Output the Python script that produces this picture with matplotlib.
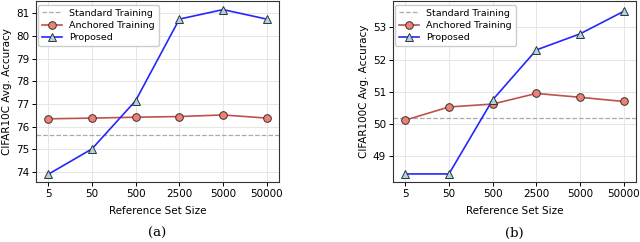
import numpy as np
import matplotlib.pyplot as plt

sizes = ["5", "50", "500", "2500", "5000", "50000"]

std10 = 75.63
anch10 = [76.35, 76.38, 76.42, 76.45, 76.52, 76.38]
prop10 = [73.9, 75.02, 77.15, 80.75, 81.17, 80.75]

std100 = 50.18
anch100 = [50.12, 50.53, 50.62, 50.95, 50.83, 50.70]
prop100 = [48.45, 48.45, 50.75, 52.30, 52.80, 53.50]


def drawPanel(ax, std, anch, prop, ylab, yticks, ylim, cap):
    x = np.arange(len(sizes))
    ax.axhline(std, color='#aaaaaa', linestyle='--', linewidth=0.9, label='Standard Training')
    ax.plot(x, anch, color='#c0504d', linewidth=1.2, marker='o', markersize=5.5,
            markerfacecolor='#f08070', markeredgecolor='#333333', markeredgewidth=0.7,
            label='Anchored Training')
    ax.plot(x, prop, color='#2626ff', linewidth=1.2, marker='^', markersize=5.5,
            markerfacecolor='#a8d4e6', markeredgecolor='#333333', markeredgewidth=0.7,
            label='Proposed')
    ax.set_xticks(x)
    ax.set_xticklabels(sizes)
    ax.set_yticks(yticks)
    ax.set_ylim(ylim)
    ax.set_xlim(-0.28, 5.28)
    ax.grid(True, color='#e6e6e6', linewidth=0.7)
    ax.set_axisbelow(True)
    for s in ax.spines.values():
        s.set_color('#333333')
        s.set_linewidth(0.8)
    ax.tick_params(labelsize=7.5, length=3, width=0.7, pad=2)
    ax.set_xlabel("Reference Set Size", fontsize=7.5, labelpad=5)
    ax.set_ylabel(ylab, fontsize=7.5, labelpad=3)
    ax.legend(loc='upper left', fontsize=6.8, framealpha=1, edgecolor='#cccccc',
              handlelength=2.1, borderpad=0.4, labelspacing=0.35,
              bbox_to_anchor=(-0.01, 1.005))
    ax.text(0.5, -0.287, cap, transform=ax.transAxes, ha='center', va='center',
            fontsize=9.5, family='DejaVu Serif')


fig = plt.figure(figsize=(6.4, 2.42), dpi=100)
ax1 = fig.add_axes([36/640, 1 - 182/242, 243/640, 181/242])
ax2 = fig.add_axes([393/640, 1 - 182/242, 243/640, 181/242])

drawPanel(ax1, std10, anch10, prop10, "CIFAR10C Avg. Accuracy",
          [74, 75, 76, 77, 78, 79, 80, 81], (73.56, 81.55), "(a)")
drawPanel(ax2, std100, anch100, prop100, "CIFAR100C Avg. Accuracy",
          [49, 50, 51, 52, 53], (48.2, 53.82), "(b)")

fig.savefig("out.png", dpi=100)
